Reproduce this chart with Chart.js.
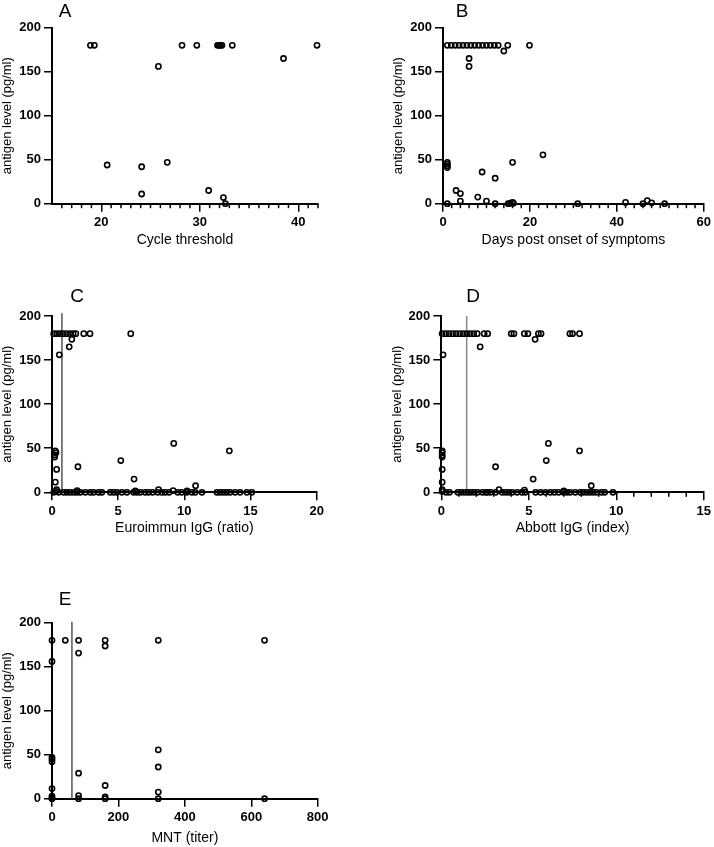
<!DOCTYPE html>
<html>
<head>
<meta charset="utf-8">
<script src="https://cdn.jsdelivr.net/npm/chart.js@4"></script>
<style>
  body { margin: 0; background: #fff; }
  #wrap { position: relative; width: 714px; height: 847px; font-family: 'Liberation Sans', Arial, sans-serif; }
  canvas { position: absolute; }
  .letter { position: absolute; font-size: 19px; transform: translate(-50%, -50%); line-height: 1; }
</style>
</head>
<body>
<div id="wrap">
  <canvas id="cA" width="357" height="250" style="left:0;top:0"></canvas>
  <canvas id="cB" width="357" height="250" style="left:357px;top:0"></canvas>
  <canvas id="cC" width="357" height="290" style="left:0;top:250px"></canvas>
  <canvas id="cD" width="357" height="290" style="left:357px;top:250px"></canvas>
  <canvas id="cE" width="357" height="307" style="left:0;top:540px"></canvas>
  <div class="letter" style="left:65px;top:10px">A</div>
  <div class="letter" style="left:462px;top:10px">B</div>
  <div class="letter" style="left:77px;top:295px">C</div>
  <div class="letter" style="left:473px;top:295px">D</div>
  <div class="letter" style="left:65px;top:598px">E</div>
</div>
<script>
// shared y axis
const yTicks = [0, 50, 100, 150, 200];

// A: cycle threshold
const ctA = [18.9, 19.3, 20.6, 24.1, 24.1, 25.8, 26.7, 28.2, 29.7, 30.9, 31.8, 31.95, 32.1, 32.25, 32.4, 32.6, 33.3, 38.5, 41.9];
const agA = [180, 180, 44, 42, 11, 156, 47, 180, 180, 15, 180, 180, 180, 180, 7, 0, 180, 165, 180];
const xTicksA = [20, 30, 40];

// B: days post onset
const daysB = [1.0, 1.9, 2.8, 3.7, 4.6, 5.5, 6.4, 7.3, 8.2, 9.1, 10.0, 10.9, 11.8, 12.7, 14.0, 14.9, 19.9,
  6.0, 6.0, 1, 1, 1, 1, 1, 3, 4, 4, 8, 9, 10, 12, 12, 15, 15.5, 16, 16.2, 16, 23, 31, 42, 46, 47, 48, 51];
const agB = [180, 180, 180, 180, 180, 180, 180, 180, 180, 180, 180, 180, 180, 180, 173.5, 180, 180,
  165, 156, 47, 45, 43, 41, 0, 15, 11.5, 3, 7.5, 36, 3, 29, 0, 0, 0.5, 1.5, 0.5, 47, 55.5, 0, 1.5, 0, 3.5, 1, 0];
const xTicksB = [0, 20, 40, 60];

// C: Euroimmun IgG ratio
const euroC = [0.13, 0.35, 0.6, 0.85, 1.1, 1.35, 1.6, 1.8, 2.4, 2.87, 5.95,
  1.3, 1.5, 0.55,
  0.25, 0.3, 0.2, 0.2, 0.35, 0.25, 0.35, 0.3,
  1.96, 5.2, 6.2, 9.2, 10.85, 13.4, 8.05, 1.9, 9.15, 6.3, 10.2,
  0.13, 0.5, 0.88, 1.13, 1.38, 1.64, 1.89, 2.14, 2.52, 2.89, 3.14, 3.52, 3.77, 4.4, 4.65, 4.91, 5.28, 5.66,
  6.16, 6.42, 6.67, 7.04, 7.3, 7.6, 7.99, 8.3, 8.55, 8.85, 9.5, 9.8, 10.19, 10.57, 10.82, 11.33,
  12.46, 12.7, 12.96, 13.2, 13.46, 13.84, 14.21, 14.72, 15.1];
const agC = [180, 180, 180, 180, 180, 180, 180, 180, 180, 180, 180,
  165, 173.5, 156,
  47, 45, 42.5, 40, 26, 11.5, 3, 1,
  29, 36, 15, 55.5, 7.5, 47, 3, 2, 2, 1.5, 1.5,
  0, 0, 0, 0, 0, 0, 0, 0, 0, 0, 0, 0, 0, 0, 0, 0, 0, 0,
  0, 0, 0, 0, 0, 0, 0, 0, 0, 0, 0, 0, 0, 0, 0, 0,
  0, 0, 0, 0, 0, 0, 0, 0, 0];
const xTicksC = [0, 5, 10, 15, 20];
const cutC = 0.75;

// D: Abbott IgG index
const abbD = [0.05, 0.25, 0.45, 0.65, 0.85, 1.05, 1.25, 1.45, 1.65, 1.85, 2.05, 2.45, 2.65, 4.0, 4.15, 4.75, 4.95, 5.55, 5.7, 7.35, 7.5, 7.9,
  5.36, 2.22, 0.1,
  0.05, 0.05, 0.05, 0.05, 0.05, 0.05, 0.05, 0.05,
  3.1, 5.25, 6.0, 6.12, 7.9, 8.57, 3.3, 4.75, 7.0,
  0.28, 0.47, 0.94, 1.13, 1.32, 1.51, 1.69, 1.88, 2.07, 2.35, 2.54, 2.64, 2.82, 3.11, 3.48, 3.67, 3.86, 4.05, 4.33, 4.61, 4.8,
  5.39, 5.67, 5.95, 6.23, 6.46, 6.7, 6.98, 7.17, 7.36, 7.65, 7.93, 8.11, 8.3, 8.49, 8.68, 8.87, 9.15, 9.34, 9.81];
const agD = [180, 180, 180, 180, 180, 180, 180, 180, 180, 180, 180, 180, 180, 180, 180, 180, 180, 180, 180, 180, 180, 180,
  173.5, 165, 156,
  47, 45, 42, 40, 26, 11.5, 3, 1,
  29, 15, 36, 55.5, 47, 7.5, 3, 2.5, 1.5,
  0, 0, 0, 0, 0, 0, 0, 0, 0, 0, 0, 0, 0, 0, 0, 0, 0, 0, 0, 0, 0,
  0, 0, 0, 0, 0, 0, 0, 0, 0, 0, 0, 0, 0, 0, 0, 0, 0, 0, 0];
const xTicksD = [0, 5, 10, 15];
const cutD = 1.45;

// E: MNT titer
const mntE = [0, 0, 0, 0, 0, 0, 0, 0, 0, 40, 80, 80, 80, 80, 80, 160, 160, 160, 160, 160, 320, 320, 320, 320, 320, 640, 640];
const agE = [180, 156, 47, 45, 42, 11.5, 3, 1, 0, 180, 180, 165.5, 29, 3.5, 0, 180, 173.5, 15, 2, 0, 180, 55.5, 36, 7.5, 0, 180, 0];
const xTicksE = [0, 200, 400, 600, 800];
const cutE = 60;

const FONT = "'Liberation Sans', Arial, sans-serif";
Chart.defaults.font.family = FONT;
Chart.defaults.color = '#000';

function minorTicks(step, majors) {
  return {
    id: 'minorTicks',
    afterDatasetsDraw(chart) {
      const s = chart.scales.x, ctx = chart.ctx, y0 = chart.chartArea.bottom;
      ctx.save();
      ctx.strokeStyle = '#000';
      ctx.lineWidth = 1.5;
      for (let v = s.min + step; v < s.max + 1e-9; v += step) {
        if (majors.some(m => Math.abs(m - v) < 1e-6)) continue;
        const x = s.getPixelForValue(v);
        ctx.beginPath();
        ctx.moveTo(x, y0);
        ctx.lineTo(x, y0 + 4.5);
        ctx.stroke();
      }
      ctx.restore();
    }
  };
}

function panel(id, o) {
  const datasets = [{
    data: o.xs.map((x, i) => ({ x, y: o.ys[i] })),
    pointRadius: 2.6, pointBorderWidth: 1.6, pointBorderColor: '#000',
    pointBackgroundColor: 'rgba(0,0,0,0)', clip: false
  }];
  if (o.cut != null) {
    datasets.push({
      data: [{ x: o.cut, y: 0 }, { x: o.cut, y: o.cutTop }],
      showLine: true, borderColor: o.cutColor, borderWidth: 1.5, pointRadius: 0, clip: false
    });
  }
  const grid = { drawOnChartArea: false, drawTicks: true, tickLength: 8, color: '#000', lineWidth: 1.5 };
  const border = { display: true, color: '#000', width: 2 };
  const tickFont = { size: 13, weight: 'bold', family: FONT };
  return new Chart(document.getElementById(id), {
    type: 'scatter',
    data: { datasets },
    plugins: o.minor ? [minorTicks(o.minor, o.xTicks)] : [],
    options: {
      responsive: false,
      animation: false,
      layout: { padding: o.pad },
      plugins: { legend: { display: false }, tooltip: { enabled: false } },
      scales: {
        x: {
          type: 'linear', min: o.xMin, max: o.xMax,
          afterBuildTicks: s => { s.ticks = o.xTicks.map(v => ({ value: v })); },
          afterFit: s => { s.height = o.xH; },
          ticks: { font: tickFont, color: '#000', padding: 3, maxRotation: 0, autoSkip: false },
          grid, border,
          title: { display: true, text: o.xTitle, font: { size: 14, family: FONT }, color: '#000', padding: 0 }
        },
        y: {
          type: 'linear', min: 0, max: 200,
          afterBuildTicks: s => { s.ticks = yTicks.map(v => ({ value: v })); },
          afterFit: s => { s.width = 52; },
          ticks: { font: tickFont, color: '#000', padding: 3 },
          grid, border,
          title: { display: true, text: 'antigen level (pg/ml)', font: { size: 13, family: FONT }, color: '#000', padding: 0 }
        }
      }
    }
  });
}

panel('cA', { xs: ctA, ys: agA, xMin: 15, xMax: 42, xTicks: xTicksA, minor: 1, xTitle: 'Cycle threshold',
  xH: 44.4, pad: { left: 0, top: 27.7, right: 39, bottom: 1.9 } });
panel('cB', { xs: daysB, ys: agB, xMin: 0, xMax: 60, xTicks: xTicksB, minor: 2, xTitle: 'Days post onset of symptoms',
  xH: 44.4, pad: { left: 34, top: 27.7, right: 7, bottom: 1.9 } });
panel('cC', { xs: euroC, ys: agC, xMin: 0, xMax: 20, xTicks: xTicksC, xTitle: 'Euroimmun IgG (ratio)',
  cut: cutC, cutTop: 203, cutColor: '#555',
  xH: 44.4, pad: { left: 0, top: 66, right: 40.3, bottom: 3.3 } });
panel('cD', { xs: abbD, ys: agD, xMin: 0, xMax: 15, xTicks: xTicksD, minor: 1, xTitle: 'Abbott IgG (index)',
  cut: cutD, cutTop: 200, cutColor: '#888',
  xH: 44.4, pad: { left: 32.3, top: 66, right: 7, bottom: 3.3 } });
panel('cE', { xs: mntE, ys: agE, xMin: 0, xMax: 800, xTicks: xTicksE, xTitle: 'MNT (titer)',
  cut: cutE, cutTop: 201, cutColor: '#555',
  xH: 48.3, pad: { left: 0, top: 82.7, right: 39.3, bottom: 0 } });
</script>
</body>
</html>
